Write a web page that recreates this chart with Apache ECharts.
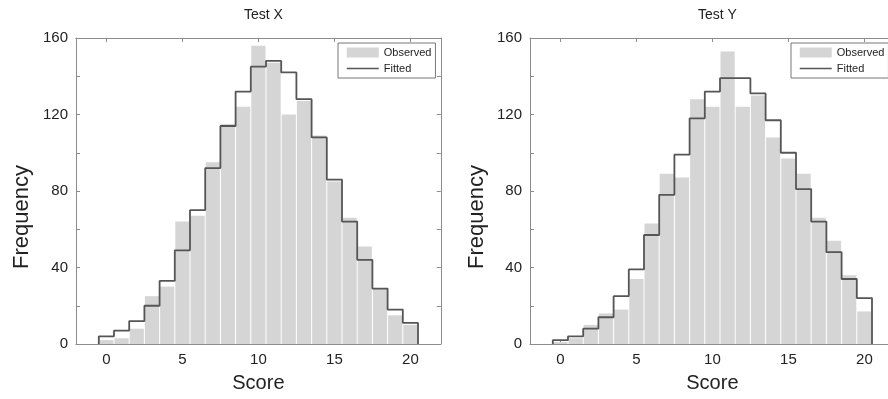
<!DOCTYPE html>
<html>
<head>
<meta charset="utf-8">
<script src="https://cdn.jsdelivr.net/npm/echarts@6/dist/echarts.min.js"></script>
<style>
html,body{margin:0;padding:0;background:#fff;}
#c{width:888px;height:399px;}
</style>
</head>
<body>
<div id="c"></div>
<script>
// ---- data ----
const scores = [0,1,2,3,4,5,6,7,8,9,10,11,12,13,14,15,16,17,18,19,20];
const observedX = [2,3,8,25,30,64,67,95,115,124,156,147,120,127,109,85,66,51,29,15,10];
const fittedX   = [4,7,12,20,33,49,70,92,114,132,145,148,142,128,108,86,64,44,29,18,11];
const observedY = [1,3,10,16,18,34,63,89,87,128,124,153,124,130,108,97,89,66,54,36,17];
const fittedY   = [2,4,8,14,25,39,57,78,99,118,132,139,139,131,117,100,81,64,48,34,24];
const xTickValues = [0,5,10,15,20];
const yTickLabels = [0,40,80,120,160];
const titles = ['Test X','Test Y'];

const FONT = '"Liberation Sans", Arial, Helvetica, sans-serif';
const AX = '#8c8c8c';
const TXT = '#222';
const BAR = '#d5d5d5';
const LINE = '#555';

function stepPoints(sc, fit){
  const pts = [[sc[0]-0.5, 0]];
  for (let i=0;i<sc.length;i++){
    pts.push([sc[i]-0.5, fit[i]]);
    pts.push([sc[i]+0.5, fit[i]]);
  }
  pts.push([sc[sc.length-1]+0.5, 0]);
  return pts;
}

const grids = [
  {left:76, top:38, width:364.8, height:306},
  {left:530, top:38, width:364.8, height:306}
];

const xAxes = [], yAxes = [], series = [], titleArr = [], legends = [];
const obsSets = [observedX, observedY];
const fitSets = [fittedX, fittedY];
const nameGapsY = [43, 42];

grids.forEach((g, gi) => {
  xAxes.push({
    type:'value', gridIndex:gi, min:-2, max:22, position:'bottom',
    splitLine:{show:false},
    axisLine:{onZero:false, lineStyle:{color:AX, width:1}},
    axisTick:{inside:true, length:4, customValues:xTickValues, lineStyle:{color:AX}},
    axisLabel:{customValues:xTickValues, color:TXT, fontSize:15, margin:8, fontFamily:FONT},
    name:'Score', nameLocation:'middle', nameGap:29,
    nameTextStyle:{fontSize:20, color:TXT, fontFamily:FONT}
  });
  xAxes.push({
    type:'value', gridIndex:gi, min:-2, max:22, position:'top',
    splitLine:{show:false},
    axisLine:{onZero:false, lineStyle:{color:AX, width:1}},
    axisTick:{inside:true, length:4, customValues:xTickValues, lineStyle:{color:AX}},
    axisLabel:{show:false}
  });
  yAxes.push({
    type:'value', gridIndex:gi, min:0, max:160, interval:20, position:'left',
    splitLine:{show:false},
    axisLine:{show:true, onZero:false, lineStyle:{color:AX, width:1}},
    axisTick:{show:true, inside:true, length:4, lineStyle:{color:AX}},
    axisLabel:{color:TXT, fontSize:15, margin:8, fontFamily:FONT,
      formatter: v => yTickLabels.indexOf(v) >= 0 ? String(v) : ''},
    name:'Frequency', nameLocation:'middle', nameGap:nameGapsY[gi],
    nameTextStyle:{fontSize:22, color:TXT, fontFamily:FONT, padding:[0,52,0,0]}
  });
  yAxes.push({
    type:'value', gridIndex:gi, min:0, max:160, interval:20, position:'right',
    splitLine:{show:false},
    axisLine:{show:true, onZero:false, lineStyle:{color:AX, width:1}},
    axisTick:{show:true, inside:true, length:4, lineStyle:{color:AX}},
    axisLabel:{show:false}
  });

  series.push({
    type:'custom', name:'Observed', xAxisIndex:gi*2, yAxisIndex:gi*2,
    itemStyle:{color:BAR},
    encode:{x:0, y:1},
    data: scores.map((s,i)=>[s, obsSets[gi][i]]),
    renderItem:(params, api) => {
      const s = api.value(0), v = api.value(1);
      const p0 = api.coord([s-0.5, v]);
      const p1 = api.coord([s+0.5, 0]);
      return {type:'rect',
        shape:{x:p0[0]+0.5, y:p0[1], width:p1[0]-p0[0]-1, height:p1[1]-p0[1]},
        style:{fill:BAR}};
    },
    z:2
  });
  series.push({
    type:'line', name:'Fitted', xAxisIndex:gi*2, yAxisIndex:gi*2,
    data: stepPoints(scores, fitSets[gi]),
    symbol:'none', showSymbol:false,
    lineStyle:{color:LINE, width:1.8},
    itemStyle:{color:LINE},
    z:3
  });

  titleArr.push({
    text:titles[gi], left:g.left + g.width/2, top:3, textAlign:'center',
    textStyle:{fontSize:14, fontWeight:'normal', color:TXT, fontFamily:FONT}
  });

  legends.push({
    orient:'vertical', left: gi===0 ? 338 : 791, top:43,
    backgroundColor:'#fff',
    borderColor:'#777', borderWidth:1, borderRadius:0,
    padding:[4,4,4,8], itemGap:5, itemWidth:32, itemHeight:10,
    textStyle:{fontSize:11, color:TXT, fontFamily:FONT},
    selectedMode:false,
    data:[{name:'Observed', icon:'rect', itemStyle:{color:BAR}},
          {name:'Fitted', icon:'line', itemStyle:{color:LINE, borderColor:LINE, borderWidth:1.5}}]
  });
});

const chart = echarts.init(document.getElementById('c'), null, {renderer:'canvas'});
chart.setOption({
  animation:false,
  backgroundColor:'#fff',
  textStyle:{fontFamily:FONT},
  title:titleArr,
  legend:legends,
  grid:grids.map(g => Object.assign({containLabel:false, outerBoundsMode:'none'}, g)),
  xAxis:xAxes,
  yAxis:yAxes,
  series:series
});
</script>
</body>
</html>
